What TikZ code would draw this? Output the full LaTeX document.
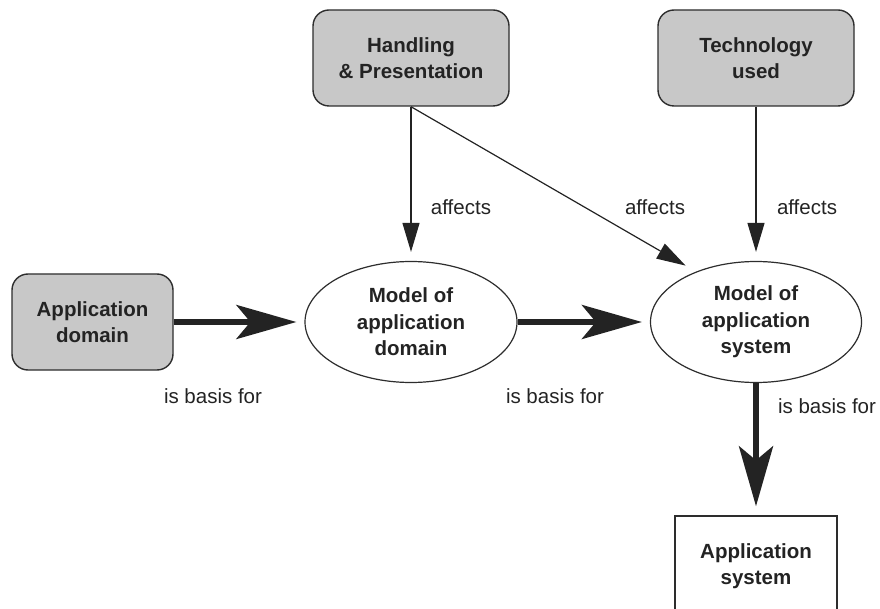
\documentclass[tikz,border=0pt]{standalone}
\usepackage{fontspec}
\setmainfont{Liberation Sans}
\usepackage{xcolor}
\usetikzlibrary{shapes.geometric,arrows.meta}

\definecolor{boxgray}{RGB}{200,200,200}
\definecolor{edgegray}{RGB}{45,45,45}
\definecolor{inkgray}{RGB}{35,35,35}

\tikzset{
  txt/.style={text=inkgray, font=\fontsize{20.5}{26.5}\selectfont},
  softbox/.style={txt, draw=edgegray, line width=1.4pt, fill=boxgray,
    rounded corners=16pt, inner sep=0pt, align=center,
    minimum width=196pt, minimum height=96pt, font=\bfseries\fontsize{20.5}{26.5}\selectfont},
  modelnode/.style={txt, ellipse, draw=edgegray, line width=1.2pt, fill=white,
    inner sep=0pt, align=center, minimum width=212pt, minimum height=121pt,
    font=\bfseries\fontsize{20.5}{26.5}\selectfont},
  plainbox/.style={txt, draw=edgegray, line width=1.4pt, fill=white,
    inner sep=0pt, align=center, minimum width=162pt, minimum height=100pt,
    font=\bfseries\fontsize{20.5}{26.5}\selectfont},
  thickflow/.style={line width=6pt, draw=inkgray, fill=inkgray,
    -{Stealth[length=60pt, width=34pt, inset=14pt]}, shorten >=8pt},
  thinflow/.style={line width=1.2pt, draw=inkgray,
    -{Triangle[length=29pt, width=17pt]}, shorten >=9pt},
  lbl/.style={txt, inner sep=0pt}
}

\begin{document}
\begin{tikzpicture}[x=1pt, y=-1pt]
			\useasboundingbox (0,0) rectangle (880,609);
			\clip (0,0) rectangle (880,609);
			%   %   %   %   %   %   %   %   %   %   %
			%   Influences
				\node[softbox] (hp) at (411,58) {Handling\\ \& Presentation};
				\node[softbox] (tech) at (756,58) {Technology\\ used};
			%   %   %   %   %   %   %   %   %   %   %
			%   Domain and models
				\node[softbox, minimum width=161pt] (appdom) at (92.5,322) {Application\\ domain};
				\node[modelnode] (mad) at (411,322) {Model of\\ application\\ domain};
				\node[modelnode, minimum width=211pt] (mas) at (756,322) {Model of\\ application\\ system};
			%   %   %   %   %   %   %   %   %   %   %
			%   Application system (cut by the frame)
				\node[plainbox] (appsys) at (756,566) {Application\\ system};
			%   %   %   %   %   %   %   %   %   %   %
			%   is basis for
				\draw[thickflow] (appdom.east) -- (mad.west);
				\node[lbl] (bas1) at (213,396) {is basis for};
				\draw[thickflow] (mad.east) -- (mas.west);
				\node[lbl] (bas2) at (555,396) {is basis for};
				\draw[thickflow, shorten >=9pt] (mas.south) -- (appsys.north);
				\node[lbl] (bas3) at (827,406) {is basis for};
			%   %   %   %   %   %   %   %   %   %   %
			%   affects
				\draw[thinflow] (hp.south) -- (mad.north);
				\node[lbl] (aff1) at (461,207) {affects};
				\draw[thinflow, shorten >=12pt] (hp.south) -- (mas.140);
				\node[lbl] (aff2) at (655,207) {affects};
				\draw[thinflow] (tech.south) -- (mas.north);
				\node[lbl] (aff3) at (807,207) {affects};
\end{tikzpicture}
\end{document}
